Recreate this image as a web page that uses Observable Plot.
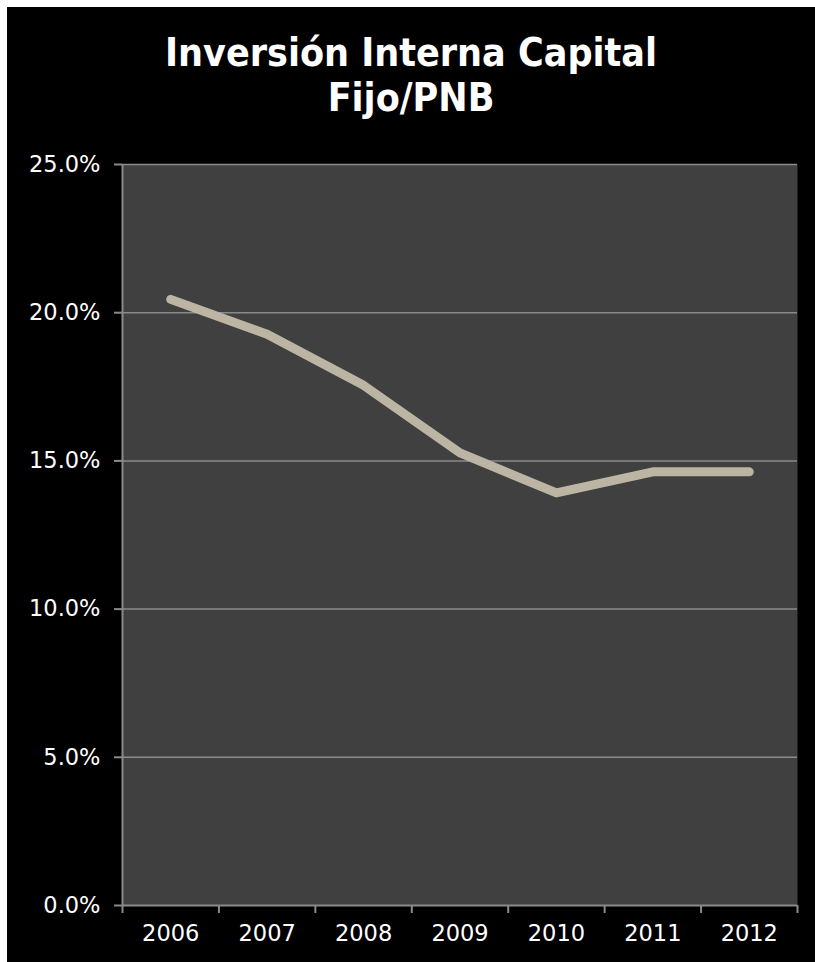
<!DOCTYPE html>
<html>
<head>
<meta charset="utf-8">
<script src="https://cdn.jsdelivr.net/npm/d3@7"></script>
<script src="https://cdn.jsdelivr.net/npm/@observablehq/plot@0.6"></script>
<style>
html, body { margin: 0; padding: 0; background: #ffffff; }
#wrap { position: absolute; left: 7px; top: 7px; width: 808px; height: 955px; background: #000; overflow: hidden; }
#title { position: absolute; left: 0; top: 23px; width: 808px; color: #fff; text-align: center;
  font-family: "DejaVu Sans Condensed", "DejaVu Sans", sans-serif; font-weight: bold; font-size: 39px; line-height: 45px; }
#chart { position: absolute; left: 0; top: 133px; }
</style>
</head>
<body>
<div id="wrap">
  <div id="title">Inversión Interna Capital<br>Fijo/PNB</div>
  <div id="chart"></div>
</div>
<script>
const years = [2006, 2007, 2008, 2009, 2010, 2011, 2012];
const values = [20.45, 19.27, 17.55, 15.27, 13.92, 14.63, 14.63];
const yTicks = [0, 5, 10, 15, 20, 25];
const yearEdges = [2005.5, 2006.5, 2007.5, 2008.5, 2009.5, 2010.5, 2011.5, 2012.5];

const data = years.map((y, i) => ({year: y, value: values[i]}));
const gridColor = "#8a8a8a";
const font = "DejaVu Sans, sans-serif";

const chart = Plot.plot({
  width: 808,
  height: 822,
  marginTop: 24,
  marginBottom: 57,
  marginLeft: 115,
  marginRight: 18,
  style: { background: "transparent", color: "#fff", fontFamily: font, fontSize: "22px", overflow: "visible" },
  x: { domain: [2005.5, 2012.5], label: null },
  y: { domain: [0, 25], label: null },
  marks: [
    Plot.frame({ fill: "#404040", stroke: null }),
    Plot.ruleY(yTicks.filter(d => d > 0), { stroke: gridColor, strokeWidth: 1.5 }),
    Plot.ruleX([2005.5], { stroke: gridColor, strokeWidth: 2 }),
    Plot.ruleY([0], { stroke: gridColor, strokeWidth: 2 }),
    Plot.axisY({ ticks: yTicks, tickSize: 8, tickPadding: 14, tickFormat: d => d.toFixed(1) + "%",
      stroke: gridColor, strokeWidth: 2, fill: "#fff", fontSize: 22.5, label: null }),
    Plot.axisX({ ticks: yearEdges, tickSize: 8, tickFormat: () => "", stroke: gridColor, strokeWidth: 2, label: null }),
    Plot.axisX({ ticks: years, tickSize: 0, tickPadding: 20, tickFormat: d => String(d), fill: "#fff", fontSize: 22.5, label: null }),
    Plot.line(data, { x: "year", y: "value", stroke: "#bcb5a4", strokeWidth: 9, strokeLinecap: "round", strokeLinejoin: "round" })
  ]
});
document.getElementById("chart").appendChild(chart);
</script>
</body>
</html>
